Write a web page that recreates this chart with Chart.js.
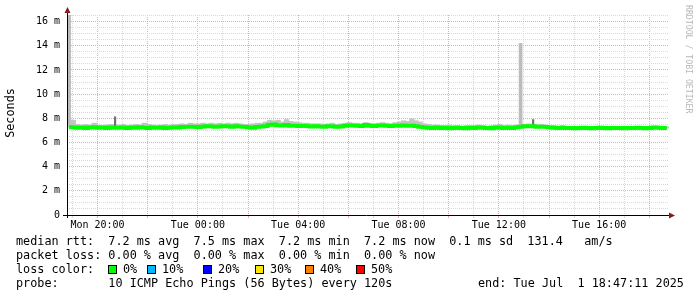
<!DOCTYPE html>
<html lang="en">
<head>
  <meta charset="UTF-8" />
  <title>SmokePing median rtt</title>
  <script src="https://cdn.jsdelivr.net/npm/chart.js"></script>
  <style>
    body {
      margin: 0;
      background: #fff;
      width: 697px;
      height: 297px;
      overflow: hidden;
      position: relative;
      font-family: 'DejaVu Sans Mono', monospace;
    }

    #rttChart {
      position: absolute;
      left: 0;
      top: 0;
    }

    .leg {
      position: absolute;
      font-size: 11.8px;
      line-height: 14px;
      white-space: pre;
      color: #000;
    }

    .box {
      position: absolute;
      width: 7px;
      height: 7px;
      border: 1px solid #000;
    }
  </style>
</head>
<body>
  <canvas id="rttChart" width="697" height="297"></canvas>

  <div class="leg" style="left:16px; top:234px;">median rtt:  7.2 ms avg  7.5 ms max  7.2 ms min  7.2 ms now  0.1 ms sd  131.4   am/s</div>
  <div class="leg" style="left:16px; top:248px;">packet loss: 0.00 % avg  0.00 % max  0.00 % min  0.00 % now</div>
  <div class="leg" style="left:16px; top:262px;">loss color:</div>
  <div id="lossLegend"></div>
  <div class="leg" style="left:16px; top:276px;">probe:       10 ICMP Echo Pings (56 Bytes) every 120s</div>
  <div class="leg" style="left:478px; top:276px;">end: Tue Jul  1 18:47:11 2025</div>

  <script>
    // time axis: 24 h ending Tue 18:47, one bin every 10 minutes
    const startHour = 18 + 47 / 60;
    const binMinutes = 10;

    const xTickHours = [19, 20, 21, 22, 23, 0, 1, 2, 3, 4, 5, 6, 7, 8, 9, 10, 11, 12, 13, 14, 15, 16, 17, 18];
    const xLabelHours = [20, 0, 4, 8, 12, 16];
    const xTickLabels = ['Mon 20:00', 'Tue 00:00', 'Tue 04:00', 'Tue 08:00', 'Tue 12:00', 'Tue 16:00'];

    const yGridValues = [0, 0.5, 1, 1.5, 2, 2.5, 3, 3.5, 4, 4.5, 5, 5.5, 6, 6.5, 7, 7.5, 8, 8.5,
      9, 9.5, 10, 10.5, 11, 11.5, 12, 12.5, 13, 13.5, 14, 14.5, 15, 15.5, 16, 16.5];
    const yLabelValues = [0, 2, 4, 6, 8, 10, 12, 14, 16];
    const yTickLabels = ['0', '2 m', '4 m', '6 m', '8 m', '10 m', '12 m', '14 m', '16 m'];

    // median rtt in ms, 10-minute bins (12 per row = 2 hours)
    const medianMs = [
      7.28, 7.25, 7.22, 7.25, 7.20, 7.24, 7.27, 7.22, 7.25, 7.20, 7.24, 7.22,
      7.22, 7.25, 7.20, 7.24, 7.22, 7.26, 7.23, 7.20, 7.25, 7.22, 7.24, 7.20,
      7.22, 7.25, 7.24, 7.28, 7.30, 7.32, 7.30, 7.28, 7.32, 7.35, 7.33, 7.30,
      7.32, 7.35, 7.33, 7.30, 7.35, 7.32, 7.30, 7.25, 7.22, 7.30, 7.32, 7.35,
      7.45, 7.50, 7.42, 7.40, 7.45, 7.38, 7.40, 7.35, 7.38, 7.35, 7.32, 7.35,
      7.32, 7.30, 7.35, 7.33, 7.30, 7.32, 7.38, 7.42, 7.40, 7.38, 7.35, 7.45,
      7.38, 7.35, 7.40, 7.42, 7.38, 7.35, 7.40, 7.38, 7.42, 7.38, 7.40, 7.35,
      7.30, 7.25, 7.22, 7.20, 7.25, 7.20, 7.22, 7.18, 7.20, 7.22, 7.20, 7.18,
      7.22, 7.20, 7.25, 7.22, 7.20, 7.18, 7.22, 7.25, 7.20, 7.22, 7.20, 7.25,
      7.30, 7.35, 7.33, 7.35, 7.30, 7.32, 7.30, 7.25, 7.22, 7.20, 7.22, 7.20,
      7.20, 7.18, 7.20, 7.22, 7.20, 7.18, 7.20, 7.22, 7.20, 7.18, 7.20, 7.20,
      7.20, 7.18, 7.20, 7.20, 7.22, 7.20, 7.18, 7.20, 7.24, 7.22, 7.20, 7.20
    ];

    // top of the grey smoke per bin, ms
    const smokeHiMs = [
      7.50, 7.85, 7.50, 7.45, 7.50, 7.45, 7.60, 7.45, 7.40, 7.45, 7.50, 7.45,
      7.45, 7.50, 7.40, 7.45, 7.50, 7.45, 7.60, 7.50, 7.45, 7.40, 7.45, 7.50,
      7.45, 7.50, 7.50, 7.55, 7.50, 7.60, 7.55, 7.55, 7.60, 7.55, 7.60, 7.55,
      7.60, 7.55, 7.60, 7.55, 7.60, 7.55, 7.50, 7.50, 7.55, 7.60, 7.60, 7.70,
      7.85, 7.80, 7.85, 7.70, 7.90, 7.75, 7.70, 7.65, 7.60, 7.60, 7.55, 7.55,
      7.55, 7.50, 7.55, 7.60, 7.50, 7.55, 7.60, 7.65, 7.60, 7.60, 7.55, 7.65,
      7.60, 7.55, 7.60, 7.65, 7.60, 7.55, 7.65, 7.70, 7.80, 7.75, 7.95, 7.80,
      7.70, 7.55, 7.50, 7.45, 7.45, 7.40, 7.40, 7.45, 7.40, 7.40, 7.35, 7.40,
      7.40, 7.40, 7.45, 7.40, 7.35, 7.40, 7.45, 7.50, 7.40, 7.45, 7.40, 7.45,
      7.50, 7.50, 7.55, 7.50, 7.45, 7.50, 7.45, 7.40, 7.40, 7.35, 7.40, 7.35,
      7.35, 7.30, 7.35, 7.30, 7.35, 7.30, 7.30, 7.35, 7.30, 7.30, 7.35, 7.30,
      7.30, 7.30, 7.35, 7.30, 7.35, 7.30, 7.30, 7.30, 7.35, 7.35, 7.30, 7.30
    ];

    // narrow tall smoke spikes
    const spikeBins = [0, 108];
    const spikeHiMs = [16.6, 14.2];

    // darker single-ping outliers
    const darkBins = [11, 111];
    const darkHiMs = [8.13, 7.9];

    const lossColors = ['#00ff00', '#00b8ff', '#0000ff', '#ffe800', '#ff7f00', '#ff0000'];
    const lossLabels = ['0%', '10%', '20%', '30%', '40%', '50%'];
    const lossBoxX = [108, 147, 203, 255, 305, 356];

    // loss colour legend boxes
    const lossLegend = document.getElementById('lossLegend');
    lossColors.forEach((c, i) => {
      const b = document.createElement('div');
      b.className = 'box';
      b.style.left = lossBoxX[i] + 'px';
      b.style.top = '265px';
      b.style.background = c;
      lossLegend.appendChild(b);
      const t = document.createElement('div');
      t.className = 'leg';
      t.style.left = (lossBoxX[i] + 15) + 'px';
      t.style.top = '262px';
      t.textContent = lossLabels[i];
      lossLegend.appendChild(t);
    });

    const binX = i => (i + 0.5) * binMinutes / 60;
    const hourPos = h => ((h - startHour) + 24) % 24;
    const posHour = v => Math.round(startHour + v) % 24;

    const linePts = medianMs.map((v, i) => ({ x: binX(i), y: v }));
    const smokePts = smokeHiMs.map((v, i) => ({ x: binX(i), y: [medianMs[i], v] }));
    const spikePts = spikeBins.map((b, i) => ({ x: binX(b), y: [medianMs[b], spikeHiMs[i]] }));
    const darkPts = darkBins.map((b, i) => ({ x: binX(b), y: [medianMs[b], darkHiMs[i]] }));

    const redGrid = '#f0a8a8';
    const greyGrid = '#dadada';
    const tickFont = { family: 'DejaVu Sans Mono', size: 10 };

    const rrdDecor = {
      id: 'rrdDecor',
      afterDatasetsDraw(chart) {
        const { ctx, chartArea: a } = chart;
        ctx.save();
        ctx.strokeStyle = '#000';
        ctx.lineWidth = 1;
        ctx.beginPath();
        ctx.moveTo(a.left - 4, a.bottom + 0.5);
        ctx.lineTo(a.right + 1, a.bottom + 0.5);
        ctx.moveTo(a.left + 0.5, a.bottom + 3);
        ctx.lineTo(a.left + 0.5, a.top - 3);
        ctx.stroke();

        ctx.fillStyle = '#8b1a1a';
        ctx.beginPath();
        ctx.moveTo(a.right, a.bottom - 2.5);
        ctx.lineTo(a.right + 6, a.bottom + 0.5);
        ctx.lineTo(a.right, a.bottom + 3.5);
        ctx.closePath();
        ctx.fill();
        ctx.beginPath();
        ctx.moveTo(a.left - 2.5, a.top - 2);
        ctx.lineTo(a.left + 0.5, a.top - 8);
        ctx.lineTo(a.left + 3.5, a.top - 2);
        ctx.closePath();
        ctx.fill();

        // y axis title
        ctx.fillStyle = '#000';
        ctx.font = '11.8px "DejaVu Sans Mono"';
        ctx.textAlign = 'center';
        ctx.textBaseline = 'middle';
        ctx.translate(11, 113);
        ctx.rotate(-Math.PI / 2);
        ctx.fillText('Seconds', 0, 0);
        ctx.restore();

        // watermark
        ctx.save();
        ctx.fillStyle = '#b8b8b8';
        ctx.font = '8.2px "DejaVu Sans Mono"';
        ctx.textAlign = 'left';
        ctx.textBaseline = 'middle';
        ctx.translate(688, 5);
        ctx.rotate(Math.PI / 2);
        ctx.fillText('RRDTOOL / TOBI OETIKER', 0, 0);
        ctx.restore();
      }
    };

    new Chart(document.getElementById('rttChart'), {
      data: {
        datasets: [
          {
            type: 'line',
            data: linePts,
            borderColor: '#00ff00',
            borderWidth: 3.8,
            stepped: 'middle',
            pointRadius: 0,
            order: 0
          },
          {
            type: 'bar',
            data: darkPts,
            backgroundColor: '#707070',
            barThickness: 1.5,
            grouped: false,
            order: 1
          },
          {
            type: 'bar',
            data: smokePts,
            backgroundColor: '#c4c4c4',
            barThickness: 4.6,
            grouped: false,
            order: 2
          },
          {
            type: 'bar',
            data: spikePts,
            backgroundColor: '#bcbcbc',
            barThickness: 3,
            grouped: false,
            order: 2
          }
        ]
      },
      options: {
        responsive: false,
        animation: false,
        layout: { padding: { top: 15, right: 28, bottom: 62, left: 0 } },
        plugins: {
          legend: { display: false },
          tooltip: { enabled: false }
        },
        scales: {
          x: {
            type: 'linear',
            min: 0,
            max: 24,
            offset: false,
            afterBuildTicks: s => { s.ticks = xTickHours.map(h => ({ value: hourPos(h) })); },
            afterFit: s => { s.height = 20; },
            ticks: {
              autoSkip: false,
              maxRotation: 0,
              padding: 1,
              color: '#000',
              font: tickFont,
              callback: v => {
                const k = xLabelHours.indexOf(posHour(v));
                return k >= 0 ? xTickLabels[k] : '';
              }
            },
            grid: {
              offset: false,
              tickLength: 3,
              color: c => (c.tick && posHour(c.tick.value) % 2 === 0) ? redGrid : greyGrid
            },
            border: { display: false, dash: [1, 1] }
          },
          y: {
            min: 0,
            max: 16.55,
            afterBuildTicks: s => { s.ticks = yGridValues.map(v => ({ value: v })); },
            afterFit: s => { s.width = 67; },
            ticks: {
              autoSkip: false,
              padding: 7,
              color: '#000',
              font: tickFont,
              callback: v => {
                const k = yLabelValues.indexOf(v);
                return k >= 0 ? yTickLabels[k] : '';
              }
            },
            grid: {
              drawTicks: false,
              color: c => (c.tick && c.tick.value % 2 === 0) ? redGrid : greyGrid
            },
            border: { display: false, dash: [1, 1] }
          }
        }
      },
      plugins: [rrdDecor]
    });
  </script>
</body>
</html>
